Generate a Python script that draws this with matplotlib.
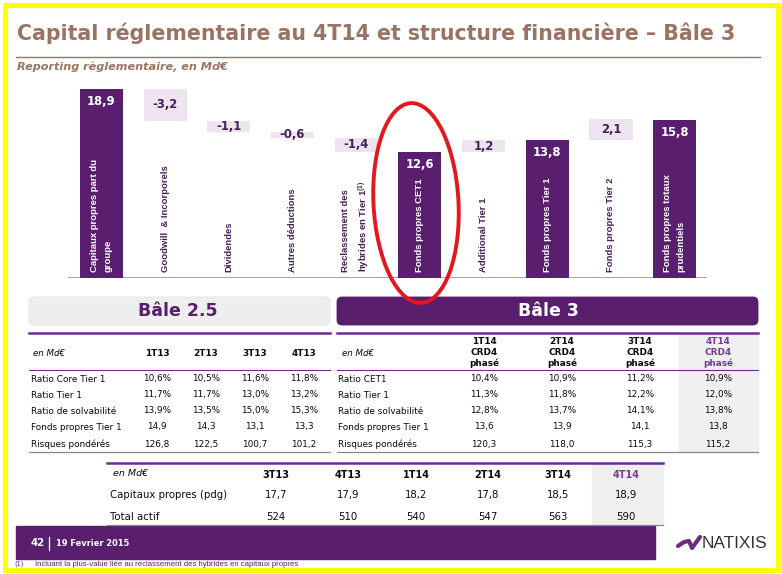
import matplotlib
matplotlib.use('Agg')
import matplotlib.pyplot as plt
from matplotlib.patches import Rectangle, FancyBboxPatch, Ellipse

# ---------------- data ----------------
wf_categories = ['Capitaux propres part du\ngroupe', 'Goodwill  & Incorporels', 'Dividendes',
                 'Autres déductions', 'Reclassement des\nhybrides en Tier 1$^{\\mathregular{(1)}}$',
                 'Fonds propres CET1', 'Additional Tier 1', 'Fonds propres Tier 1',
                 'Fonds propres Tier 2', 'Fonds propres totaux\nprudentiels']
wf_values = [18.9, -3.2, -1.1, -0.6, -1.4, 12.6, 1.2, 13.8, 2.1, 15.8]
wf_is_total = [True, False, False, False, False, True, False, True, False, True]

b25_periods = ['1T13', '2T13', '3T13', '4T13']
b25_rows = ['Ratio Core Tier 1', 'Ratio Tier 1', 'Ratio de solvabilité',
            'Fonds propres Tier 1', 'Risques pondérés']
b25_core_t1 = [10.6, 10.5, 11.6, 11.8]
b25_tier1 = [11.7, 11.7, 13.0, 13.2]
b25_solv = [13.9, 13.5, 15.0, 15.3]
b25_fp_t1 = [14.9, 14.3, 13.1, 13.3]
b25_rwa = [126.8, 122.5, 100.7, 101.2]

b3_periods = ['1T14', '2T14', '3T14', '4T14']
b3_rows = ['Ratio CET1', 'Ratio Tier 1', 'Ratio de solvabilité',
           'Fonds propres Tier 1', 'Risques pondérés']
b3_cet1 = [10.4, 10.9, 11.2, 10.9]
b3_tier1 = [11.3, 11.8, 12.2, 12.0]
b3_solv = [12.8, 13.7, 14.1, 13.8]
b3_fp_t1 = [13.6, 13.9, 14.1, 13.8]
b3_rwa = [120.3, 118.0, 115.3, 115.2]

bs_periods = ['3T13', '4T13', '1T14', '2T14', '3T14', '4T14']
bs_rows = ['Capitaux propres (pdg)', 'Total actif']
bs_equity = [17.7, 17.9, 18.2, 17.8, 18.5, 18.9]
bs_assets = [524, 510, 540, 547, 563, 590]

# ---------------- style ----------------
PURPLE = '#5A1E6E'
LIGHT = '#EEE4F0'
LABEL_DARK = '#46205A'
BROWN = '#9A7462'
HILITE = '#7B3A96'
GRAYBG = '#EFEFEF'
INK = '#0A0A0A'

W, H = 782, 574
fig = plt.figure(figsize=(W / 100, H / 100), dpi=100)
ax = fig.add_axes([0, 0, 1, 1])
ax.set_xlim(0, W)
ax.set_ylim(H, 0)
ax.axis('off')
renderer = fig.canvas.get_renderer()


def fam(*names):
    return list(names) + ['DejaVu Sans']


def fit(x, y, txt, width, target=None, **kw):
    target = target or ax
    t = target.text(x, y, txt, fontsize=10, **kw)
    bb = t.get_window_extent(renderer)
    t.set_fontsize(10 * width / bb.width)
    return t


def pct(v):
    return f'{v:.1f}'.replace('.', ',') + '%'


def num(v):
    return f'{v:.1f}'.replace('.', ',')


# yellow frame
ax.add_patch(Rectangle((4.5, 4.5), 773.5, 565, fill=False, ec='#FFFF00', lw=3.7))

# title
fit(17, 39.5, 'Capital réglementaire au 4T14 et structure financière – Bâle 3', 720,
    color=BROWN, fontweight='bold', va='baseline', ha='left',
    family=fam('DejaVu Sans Condensed'))
ax.plot([16, 760], [57, 57], color=BROWN, lw=1.0)
fit(17, 70, 'Reporting règlementaire, en Md€', 210, color=BROWN, fontweight='bold',
    fontstyle='italic', va='baseline', ha='left', family=fam('DejaVu Sans Condensed'))

# ---------------- waterfall ----------------
bx = fig.add_axes([68 / W, (H - 278) / H, 639 / W, 198 / H])
bx.set_xlim(-0.526, 9.51)
bx.set_ylim(0, 19.8)
bx.axis('off')
bx.patch.set_alpha(0)

running = 0.0
for i, (v, tot, cat) in enumerate(zip(wf_values, wf_is_total, wf_categories)):
    if tot:
        bottom, height = 0.0, v
        running = v
    else:
        bottom = running + v if v < 0 else running
        height = abs(v)
        running += v
    bx.bar(i, height, bottom=bottom, width=0.68, color=PURPLE if tot else LIGHT, zorder=2)
    if tot:
        bx.text(i, bottom + height - 1.25, num(v), ha='center', va='center', color='white',
                fontweight='bold', fontsize=8.4, zorder=3)
    else:
        bx.text(i, bottom + height / 2, num(v), ha='center', va='center', color=LABEL_DARK,
                fontweight='bold', fontsize=8.4, zorder=3)
    bx.text(i, 0.6, cat, rotation=90, ha='center', va='bottom', multialignment='left',
            color='white' if tot else LABEL_DARK, fontweight='bold', fontsize=6.8,
            linespacing=1.65, family=['Liberation Sans', 'DejaVu Sans'], zorder=3)
bx.axhline(0, color='#9B8FA8', lw=1.2, zorder=1)

# ---------------- Bâle 2.5 table ----------------
ax.add_patch(FancyBboxPatch((29, 297), 301, 28, boxstyle='round,pad=0,rounding_size=5',
                            fc='#EEEEEE', ec='#E4E4E4', lw=0.6))
ax.text(178, 311.5, 'Bâle 2.5', ha='center', va='center', color=PURPLE,
        fontweight='bold', fontsize=12.5)
ax.plot([29, 330], [333, 333], color='#6E2C8E', lw=1.8)
ax.plot([29, 330], [370, 370], color='#6E2C8E', lw=0.8)
ax.plot([29, 330], [452, 452], color='#888888', lw=0.9)
ax.text(33, 353, 'en Md€', ha='left', va='center', fontstyle='italic', fontsize=6.2,
        color=INK)
b25_cols = [157, 206, 255, 304]
for cx, p in zip(b25_cols, b25_periods):
    ax.text(cx, 353, p, ha='center', va='center', fontweight='bold', fontsize=6.4,
            color=INK)
row_y = [379, 395, 411, 427, 444]
b25_cells = [[pct(v) for v in b25_core_t1], [pct(v) for v in b25_tier1],
             [pct(v) for v in b25_solv], [num(v) for v in b25_fp_t1],
             [num(v) for v in b25_rwa]]
for ry, lab, cells in zip(row_y, b25_rows, b25_cells):
    ax.text(31, ry, lab, ha='left', va='center', fontsize=6.4, color=INK)
    for cx, c in zip(b25_cols, cells):
        ax.text(cx, ry, c, ha='center', va='center', fontsize=6.4, color=INK)

# ---------------- Bâle 3 table ----------------
ax.add_patch(Rectangle((679, 334), 79, 118, color=GRAYBG, zorder=0))
ax.add_patch(FancyBboxPatch((337, 297), 421, 28, boxstyle='round,pad=0,rounding_size=5',
                            fc=PURPLE, ec=PURPLE, lw=0.6))
ax.text(548, 311.5, 'Bâle 3', ha='center', va='center', color='white',
        fontweight='bold', fontsize=12.5)
ax.plot([337, 758], [333, 333], color='#6E2C8E', lw=1.8)
ax.plot([337, 758], [370, 370], color='#6E2C8E', lw=0.8)
ax.plot([337, 758], [452, 452], color='#888888', lw=0.9)
ax.text(342, 353, 'en Md€', ha='left', va='center', fontstyle='italic', fontsize=6.2,
        color=INK)
b3_cols = [484, 562, 640, 718]
for k, (cx, p) in enumerate(zip(b3_cols, b3_periods)):
    col = HILITE if k == len(b3_periods) - 1 else INK
    for yy, tt in zip([342, 352.5, 363], [p, 'CRD4', 'phasé']):
        ax.text(cx, yy, tt, ha='center', va='center', fontweight='bold', fontsize=6.4,
                color=col)
b3_cells = [[pct(v) for v in b3_cet1], [pct(v) for v in b3_tier1],
            [pct(v) for v in b3_solv], [num(v) for v in b3_fp_t1],
            [num(v) for v in b3_rwa]]
for ry, lab, cells in zip(row_y, b3_rows, b3_cells):
    ax.text(338, ry, lab, ha='left', va='center', fontsize=6.4, color=INK)
    for cx, c in zip(b3_cols, cells):
        ax.text(cx, ry, c, ha='center', va='center', fontsize=6.4, color=INK)

# ---------------- balance sheet table ----------------
ax.add_patch(Rectangle((592, 464), 71, 61, color=GRAYBG, zorder=0))
ax.plot([107, 663], [463, 463], color='#6E2C8E', lw=1.8)
ax.plot([107, 663], [525, 525], color='#888888', lw=0.9)
ax.text(113, 474, 'en Md€', ha='left', va='center', fontstyle='italic', fontsize=6.8,
        color=INK)
bs_cols = [276, 348, 416, 488, 558, 626]
for k, (cx, p) in enumerate(zip(bs_cols, bs_periods)):
    ax.text(cx, 475, p, ha='center', va='center', fontweight='bold', fontsize=7.0,
            color=HILITE if k == len(bs_periods) - 1 else INK)
bs_cells = [[num(v) for v in bs_equity], [str(v) for v in bs_assets]]
for ry, lab, cells in zip([495, 517], bs_rows, bs_cells):
    ax.text(110, ry, lab, ha='left', va='center', fontsize=7.3, color=INK)
    for cx, c in zip(bs_cols, cells):
        ax.text(cx, ry, c, ha='center', va='center', fontsize=7.3, color=INK)

# ---------------- footer ----------------
ax.add_patch(Rectangle((16, 526), 639, 33, color=PURPLE))
ax.text(31, 543, '42', ha='left', va='center', color='white', fontweight='bold',
        fontsize=7.4, family=fam('DejaVu Sans Condensed'))
ax.plot([49, 49], [537, 550], color='white', lw=0.9)
fit(56, 543, '19 Fevrier 2015', 73, ha='left', va='center', color='white',
    fontweight='bold', family=fam('DejaVu Sans Condensed'))
ax.text(14, 564, '(1)', ha='left', va='center', color=PURPLE, fontsize=4.8)
fit(35, 564, 'Incluant la plus-value liée au reclassement des hybrides en capitaux propres',
    264, ha='left', va='center', color=PURPLE, family=['Liberation Sans', 'DejaVu Sans'])

# ---------------- overlay: ellipse + logo ----------------
ov = fig.add_axes([0, 0, 1, 1])
ov.set_xlim(0, W)
ov.set_ylim(H, 0)
ov.axis('off')
ov.patch.set_alpha(0)
ov.add_patch(Ellipse((416, 203), 85, 200, angle=-3, fill=False, ec='#E3171E', lw=2.8))
ov.plot([678, 684, 689, 692, 700], [546, 542, 541, 548, 537], color='#6B2E7E', lw=3.0,
        solid_capstyle='round', solid_joinstyle='round')
fit(702, 543, 'NATIXIS', 66, target=ov, ha='left', va='center', color='#333333',
    family=['Liberation Sans', 'DejaVu Sans'])

fig.savefig('out.png', dpi=100)
